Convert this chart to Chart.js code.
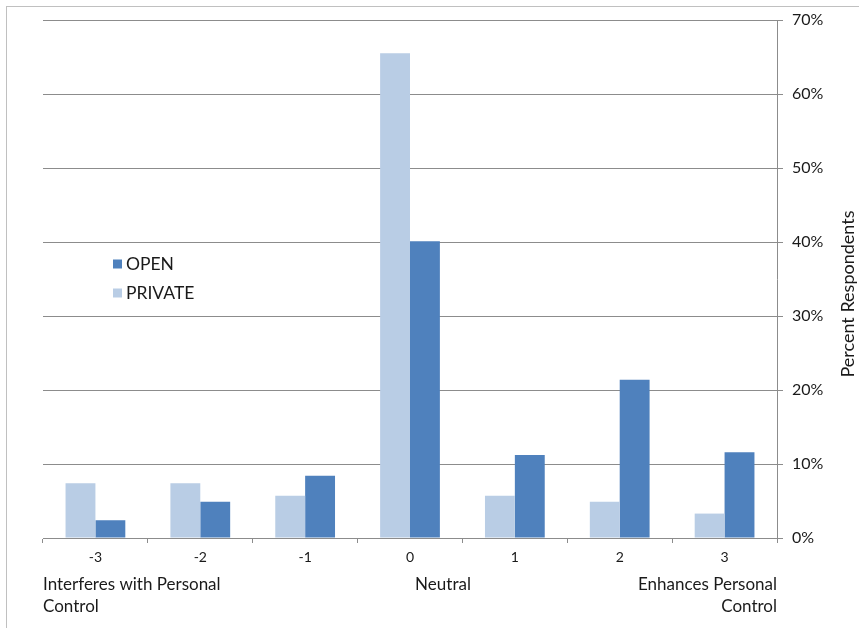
<!DOCTYPE html>
<html>
<head>
<meta charset="utf-8">
<script src="https://cdn.jsdelivr.net/npm/chart.js@4.4.1/dist/chart.umd.min.js"></script>
<style>
  html, body { margin: 0; padding: 0; background: #fff; }
  #wrap { position: relative; width: 859px; height: 628px; }
</style>
</head>
<body>
<div id="wrap"><canvas id="chart" width="859" height="628"></canvas></div>
<script>
// categories on the scale from interfering to enhancing
const categories = ['-3', '-2', '-1', '0', '1', '2', '3'];
// percent respondents
const privateValues = [7.4, 7.4, 5.7, 65.5, 5.7, 4.9, 3.3];
const openValues = [2.4, 4.9, 8.4, 40.1, 11.2, 21.4, 11.6];
const yTicks = [0, 10, 20, 30, 40, 50, 60, 70];
const legendOrder = ['OPEN', 'PRIVATE'];

const FONT = 'Lato, "Open Sans", sans-serif';
const GRID = '#8c8c8c';
const TEXT = '#1a1a1a';

// frame, legend, bottom captions and y title drawn by hand
const extras = {
    id: 'extras',
    beforeDraw(chart) {
        const ctx = chart.ctx;
        ctx.save();
        ctx.fillStyle = '#fff';
        ctx.fillRect(0, 0, chart.width, chart.height);
        ctx.strokeStyle = '#c0c0c0';
        ctx.lineWidth = 1;
        ctx.strokeRect(6.5, 6.5, chart.width + 20, chart.height + 20);
        ctx.restore();
    },
    afterDraw(chart) {
        const ctx = chart.ctx;
        const area = chart.chartArea;
        ctx.save();
        ctx.font = '17px ' + FONT;
        ctx.fillStyle = TEXT;
        ctx.textBaseline = 'middle';

        // bottom captions
        ctx.textAlign = 'left';
        ctx.fillText('Interferes with Personal', area.left, 585);
        ctx.fillText('Control', area.left, 607);
        ctx.textAlign = 'center';
        ctx.fillText('Neutral', 443, 585);
        ctx.textAlign = 'right';
        ctx.fillText('Enhances Personal', area.right, 585);
        ctx.fillText('Control', area.right, 607);

        // y axis title, reading bottom to top
        ctx.font = '18px ' + FONT;
        ctx.translate(848, 294);
        ctx.rotate(-Math.PI / 2);
        ctx.textAlign = 'center';
        ctx.fillText('Percent Respondents', 0, 0);
        ctx.setTransform(1, 0, 0, 1, 0, 0);

        // legend
        ctx.font = '17.5px ' + FONT;
        ctx.textAlign = 'left';
        legendOrder.forEach((name, i) => {
            const ds = chart.data.datasets.find(d => d.label === name);
            const y = 264 + i * 29;
            ctx.fillStyle = ds.backgroundColor;
            ctx.fillRect(113, y - 4.5, 9, 9);
            ctx.fillStyle = TEXT;
            ctx.fillText(name, 126, y);
        });
        ctx.restore();
    }
};

new Chart(document.getElementById('chart'), {
    type: 'bar',
    data: {
        labels: categories,
        datasets: [
            { label: 'PRIVATE', data: privateValues, backgroundColor: '#b9cde5' },
            { label: 'OPEN', data: openValues, backgroundColor: '#4f81bd' }
        ]
    },
    options: {
        responsive: false,
        animation: false,
        layout: { padding: { left: 43, top: 20, right: 0, bottom: 0 } },
        datasets: { bar: { categoryPercentage: 0.57, barPercentage: 1.0, borderWidth: 0 } },
        plugins: {
            legend: { display: false },
            tooltip: { enabled: false }
        },
        scales: {
            x: {
                offset: true,
                grid: { display: true, drawOnChartArea: false, drawTicks: true, tickLength: 5, color: GRID, offset: true },
                border: { display: true, color: GRID },
                ticks: { color: TEXT, font: { family: FONT, size: 14 }, padding: 6 },
                afterFit(scale) { scale.height = 90; }
            },
            y: {
                position: 'right',
                min: 0,
                max: 70,
                afterBuildTicks(scale) { scale.ticks = yTicks.map(v => ({ value: v })); },
                grid: { color: GRID, drawTicks: true, tickLength: 6 },
                border: { display: true, color: GRID },
                ticks: {
                    color: TEXT,
                    font: { family: FONT, size: 16 },
                    padding: 9,
                    callback: v => v + '%'
                },
                afterFit(scale) { scale.width = 82; }
            }
        }
    },
    plugins: [extras]
});
</script>
</body>
</html>
